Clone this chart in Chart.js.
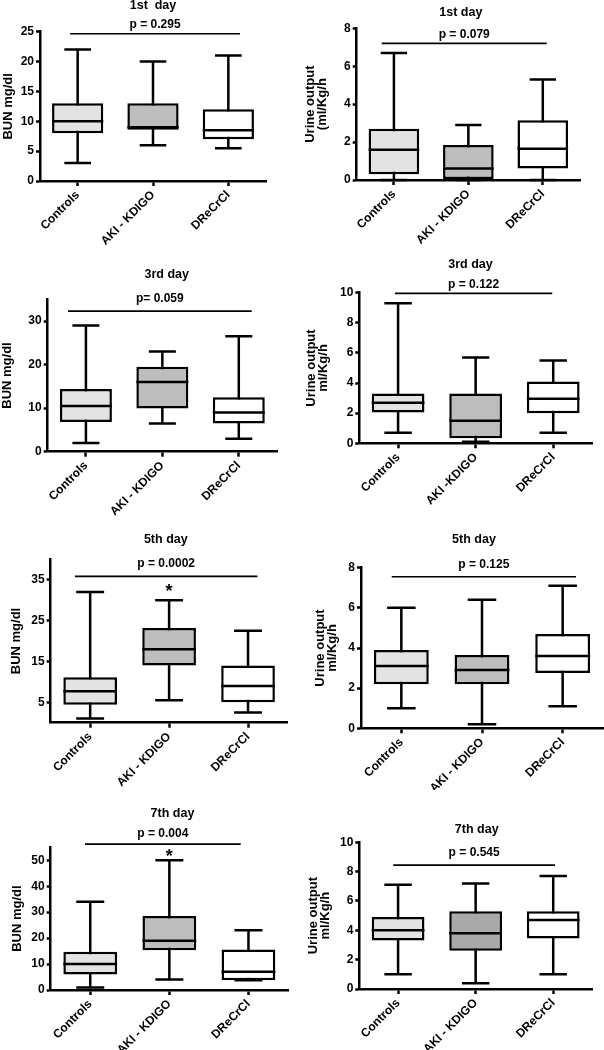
<!DOCTYPE html>
<html>
<head>
<meta charset="utf-8">
<script src="https://cdn.jsdelivr.net/npm/chart.js@4.4.1/dist/chart.umd.min.js"></script>
<style>
  body { margin: 0; background: #fff; }
  #wrap { position: relative; width: 604px; height: 1050px; overflow: hidden; }
  canvas { position: absolute; }
</style>
</head>
<body>
<div id="wrap">
  <canvas id="p1"></canvas><canvas id="p2"></canvas>
  <canvas id="p3"></canvas><canvas id="p4"></canvas>
  <canvas id="p5"></canvas><canvas id="p6"></canvas>
  <canvas id="p7"></canvas><canvas id="p8"></canvas>
</div>
<script>
// categories
const groups = ['Controls', 'AKI - KDIGO', 'DReCrCl'];
const groupsUrine3 = ['Controls', 'AKI -KDIGO', 'DReCrCl'];

// box stats per group: [min, q1, median, q3, max]
const bun1 = [[3, 8, 10, 13, 22], [6, 8.6, 9, 13, 20], [5.5, 7, 8.5, 12, 21]];
const urine1 = [[0, 0.3, 1.6, 2.7, 6.7], [0, 0.05, 0.6, 1.85, 2.9], [0, 0.6, 1.65, 3.15, 5.3]];
const bun3 = [[2, 6.8, 10.5, 14.4, 29], [6.5, 9.9, 16, 19.5, 23], [3, 6.5, 9, 12.5, 26.5]];
const urine3 = [[0.7, 2.05, 2.7, 3.3, 9.3], [0.1, 0.33, 1.5, 3.3, 5.7], [0.7, 2, 2.95, 4.1, 5.5]];
const bun5 = [[1, 4.4, 7.7, 11.1, 32], [5.5, 14, 18, 23.2, 30], [2.5, 5, 9, 14, 22.5]];
const urine5 = [[1, 2.2, 3.1, 3.9, 6], [0.2, 2.2, 2.9, 3.65, 6.4], [1.1, 2.75, 3.6, 4.7, 7.1]];
const bun7 = [[1, 6, 10, 14.7, 34], [4, 15.3, 19, 28.5, 50], [3.8, 3.8, 7, 15.6, 23]];
const urine7 = [[1, 3.3, 4, 4.9, 7.1], [0.4, 2.6, 3.8, 5.3, 7.2], [1, 3.45, 4.7, 5.3, 7.7]];

// y tick labels and axis tops
const yTicks = [
  [0, 5, 10, 15, 20, 25], [0, 2, 4, 6, 8],
  [0, 10, 20, 30], [0, 2, 4, 6, 8, 10],
  [5, 15, 25, 35], [0, 2, 4, 6, 8],
  [0, 10, 20, 30, 40, 50], [0, 2, 4, 6, 8, 10]
];
const yMax = [25, 8, 35, 10, 40, 8, 55, 10];

const titles = ['1st  day', '1st day', '3rd day', '3rd day', '5th day', '5th day', '7th day', '7th day'];
const pTexts = ['p = 0.295', 'p = 0.079', 'p= 0.059', 'p = 0.122', 'p = 0.0002', 'p = 0.125', 'p = 0.004', 'p = 0.545'];
const pLevels = [24.66, 7.21, 32.3, 9.96, 35.8, 7.55, 56.2, 8.45];
const yTitles = [
  'BUN mg/dl', ['Urine output', '(ml/Kg/h'],
  'BUN mg/dl', ['Urine output', 'ml/Kg/h'],
  'BUN mg/dl', ['Urine output', 'ml/Kg/h'],
  'BUN mg/dl', ['Urine output', 'ml/Kg/h']
];
// significance marks: [panel, group index, value]
const stars = [[4, 1, 33.4], [6, 1, 53.3]];

// page geometry of each panel: canvas box, plot area, text spots
const layout = [
  { x: 0,   y: 0,   w: 302, h: 250, l: 40,    t: 31.7,  r: 266,   b: 181,   tx: 153,   ty: 6,    yt: 8,    gap: 9,    from: -0.10,  to: 2.155 },
  { x: 302, y: 0,   w: 302, h: 250, l: 356.7, t: 28.3,  r: 580,   b: 180,   tx: 158.8, ty: 12.7, yt: 8.5,  gap: 8.3,  from: -0.164, to: 2.053 },
  { x: 0,   y: 250, w: 302, h: 270, l: 47.7,  t: 299.3, r: 277,   b: 451.7, tx: 166.7, ty: 25,   yt: 7,    gap: 12.7, from: -0.234, to: 2.169 },
  { x: 302, y: 250, w: 302, h: 270, l: 359.3, t: 292.7, r: 592,   b: 443.3, tx: 168.5, ty: 15,   yt: 9,    gap: 8.3,  from: -0.04,  to: 1.988 },
  { x: 0,   y: 520, w: 302, h: 270, l: 50.7,  t: 559.3, r: 287.5, b: 722.7, tx: 165.8, ty: 20,   yt: 16.7, gap: 12.3, from: -0.192, to: 2.118 },
  { x: 302, y: 520, w: 302, h: 270, l: 361,   t: 567.7, r: 603,   b: 728.3, tx: 172,   ty: 19.3, yt: 18,   gap: 12.4, from: -0.119, to: 2.165 },
  { x: 0,   y: 790, w: 302, h: 260, l: 50.7,  t: 847.3, r: 288,   b: 990,   tx: 172.5, ty: 24,   yt: 17.5, gap: 10.4, from: -0.066, to: 1.902 },
  { x: 302, y: 790, w: 302, h: 260, l: 359.3, t: 842.3, r: 592,   b: 989,   tx: 174.7, ty: 39.3, yt: 11.5, gap: 12.3, from: -0.062, to: 2.023 }
];

const FONT = '"Liberation Sans", Arial, sans-serif';
const LW = 2.5;
Chart.defaults.font.family = FONT;
Chart.defaults.font.weight = 'bold';
Chart.defaults.font.size = 12;
Chart.defaults.color = '#000';

function whiskers(stats) {
  return {
    id: 'whiskers',
    beforeDatasetsDraw(chart) {
      const ctx = chart.ctx, y = chart.scales.y;
      ctx.save();
      ctx.strokeStyle = '#000';
      ctx.lineWidth = LW;
      chart.getDatasetMeta(0).data.forEach((bar, i) => {
        const s = stats[i];
        const cap = bar.width * 0.26;
        const lo = y.getPixelForValue(s[0]), hi = y.getPixelForValue(s[4]);
        ctx.beginPath();
        ctx.moveTo(bar.x, lo); ctx.lineTo(bar.x, hi);
        ctx.moveTo(bar.x - cap, lo); ctx.lineTo(bar.x + cap, lo);
        ctx.moveTo(bar.x - cap, hi); ctx.lineTo(bar.x + cap, hi);
        ctx.stroke();
      });
      ctx.restore();
    },
    afterDatasetsDraw(chart) {
      const ctx = chart.ctx, y = chart.scales.y;
      ctx.save();
      ctx.strokeStyle = '#000';
      ctx.lineWidth = LW;
      chart.getDatasetMeta(0).data.forEach((bar, i) => {
        const m = y.getPixelForValue(stats[i][2]);
        ctx.beginPath();
        ctx.moveTo(bar.x - bar.width / 2, m);
        ctx.lineTo(bar.x + bar.width / 2, m);
        ctx.stroke();
      });
      ctx.restore();
    }
  };
}

function notes(k, lay) {
  return {
    id: 'notes',
    afterDraw(chart) {
      const ctx = chart.ctx, x = chart.scales.x, y = chart.scales.y;
      ctx.save();
      ctx.fillStyle = '#000';
      ctx.strokeStyle = '#000';
      ctx.textAlign = 'center';
      ctx.textBaseline = 'middle';
      ctx.font = 'bold 12.5px ' + FONT;
      ctx.fillText(titles[k], lay.tx, lay.ty);

      const ly = y.getPixelForValue(pLevels[k]);
      const x1 = x.getPixelForValue(lay.from), x2 = x.getPixelForValue(lay.to);
      ctx.lineWidth = 1.7;
      ctx.beginPath();
      ctx.moveTo(x1, ly); ctx.lineTo(x2, ly);
      ctx.stroke();
      ctx.font = 'bold 12px ' + FONT;
      ctx.fillText(pTexts[k], (x1 + x2) / 2, ly - lay.gap);

      stars.filter(s => s[0] === k).forEach(s => {
        const size = 18;
        ctx.font = 'bold ' + size + 'px ' + FONT;
        ctx.textBaseline = 'alphabetic';
        ctx.fillText('*', x.getPixelForValue(s[1]), y.getPixelForValue(s[2]) + size * 0.575);
      });
      ctx.restore();
    }
  };
}

function makePanel(k, stats, labels) {
  const lay = layout[k];
  const c = document.getElementById('p' + (k + 1));
  c.width = lay.w;
  c.height = lay.h;
  c.style.left = lay.x + 'px';
  c.style.top = lay.y + 'px';
  const fills = ['#e3e3e3', k === 7 ? '#a9a9a9' : '#bdbdbd', '#ffffff'];

  new Chart(c, {
    type: 'bar',
    data: {
      labels: labels,
      datasets: [{
        data: stats.map(s => [s[1], s[3]]),
        backgroundColor: fills,
        borderColor: '#000',
        borderWidth: LW,
        borderSkipped: false,
        barPercentage: 0.68,
        categoryPercentage: 1
      }]
    },
    options: {
      responsive: false,
      animation: false,
      layout: { padding: { top: lay.t - lay.y, right: lay.x + lay.w - lay.r, left: 0, bottom: 0 } },
      plugins: { legend: { display: false }, tooltip: { enabled: false } },
      scales: {
        x: {
          offset: true,
          grid: { offset: false, drawOnChartArea: false, tickLength: 5, tickWidth: LW, tickColor: '#000' },
          border: { color: '#000', width: LW },
          ticks: { minRotation: 45, maxRotation: 45, autoSkip: false, padding: 2 },
          afterFit: s => { s.height = lay.y + lay.h - lay.b; }
        },
        y: {
          min: 0,
          max: yMax[k],
          afterBuildTicks: s => { s.ticks = yTicks[k].map(v => ({ value: v })); },
          grid: { drawOnChartArea: false, tickLength: 4, tickWidth: LW, tickColor: '#000' },
          border: { color: '#000', width: LW },
          ticks: { padding: 2 },
          title: {
            display: true,
            text: yTitles[k],
            font: { size: 13, weight: 'bold', lineHeight: 0.95 },
            padding: { top: Math.max(lay.yt - 6.2, 0), bottom: 0 }
          },
          afterFit: s => { s.width = lay.l - lay.x; }
        }
      }
    },
    plugins: [whiskers(stats), notes(k, lay)]
  });
}

makePanel(0, bun1, groups);
makePanel(1, urine1, groups);
makePanel(2, bun3, groups);
makePanel(3, urine3, groupsUrine3);
makePanel(4, bun5, groups);
makePanel(5, urine5, groups);
makePanel(6, bun7, groups);
makePanel(7, urine7, groups);
</script>
</body>
</html>
